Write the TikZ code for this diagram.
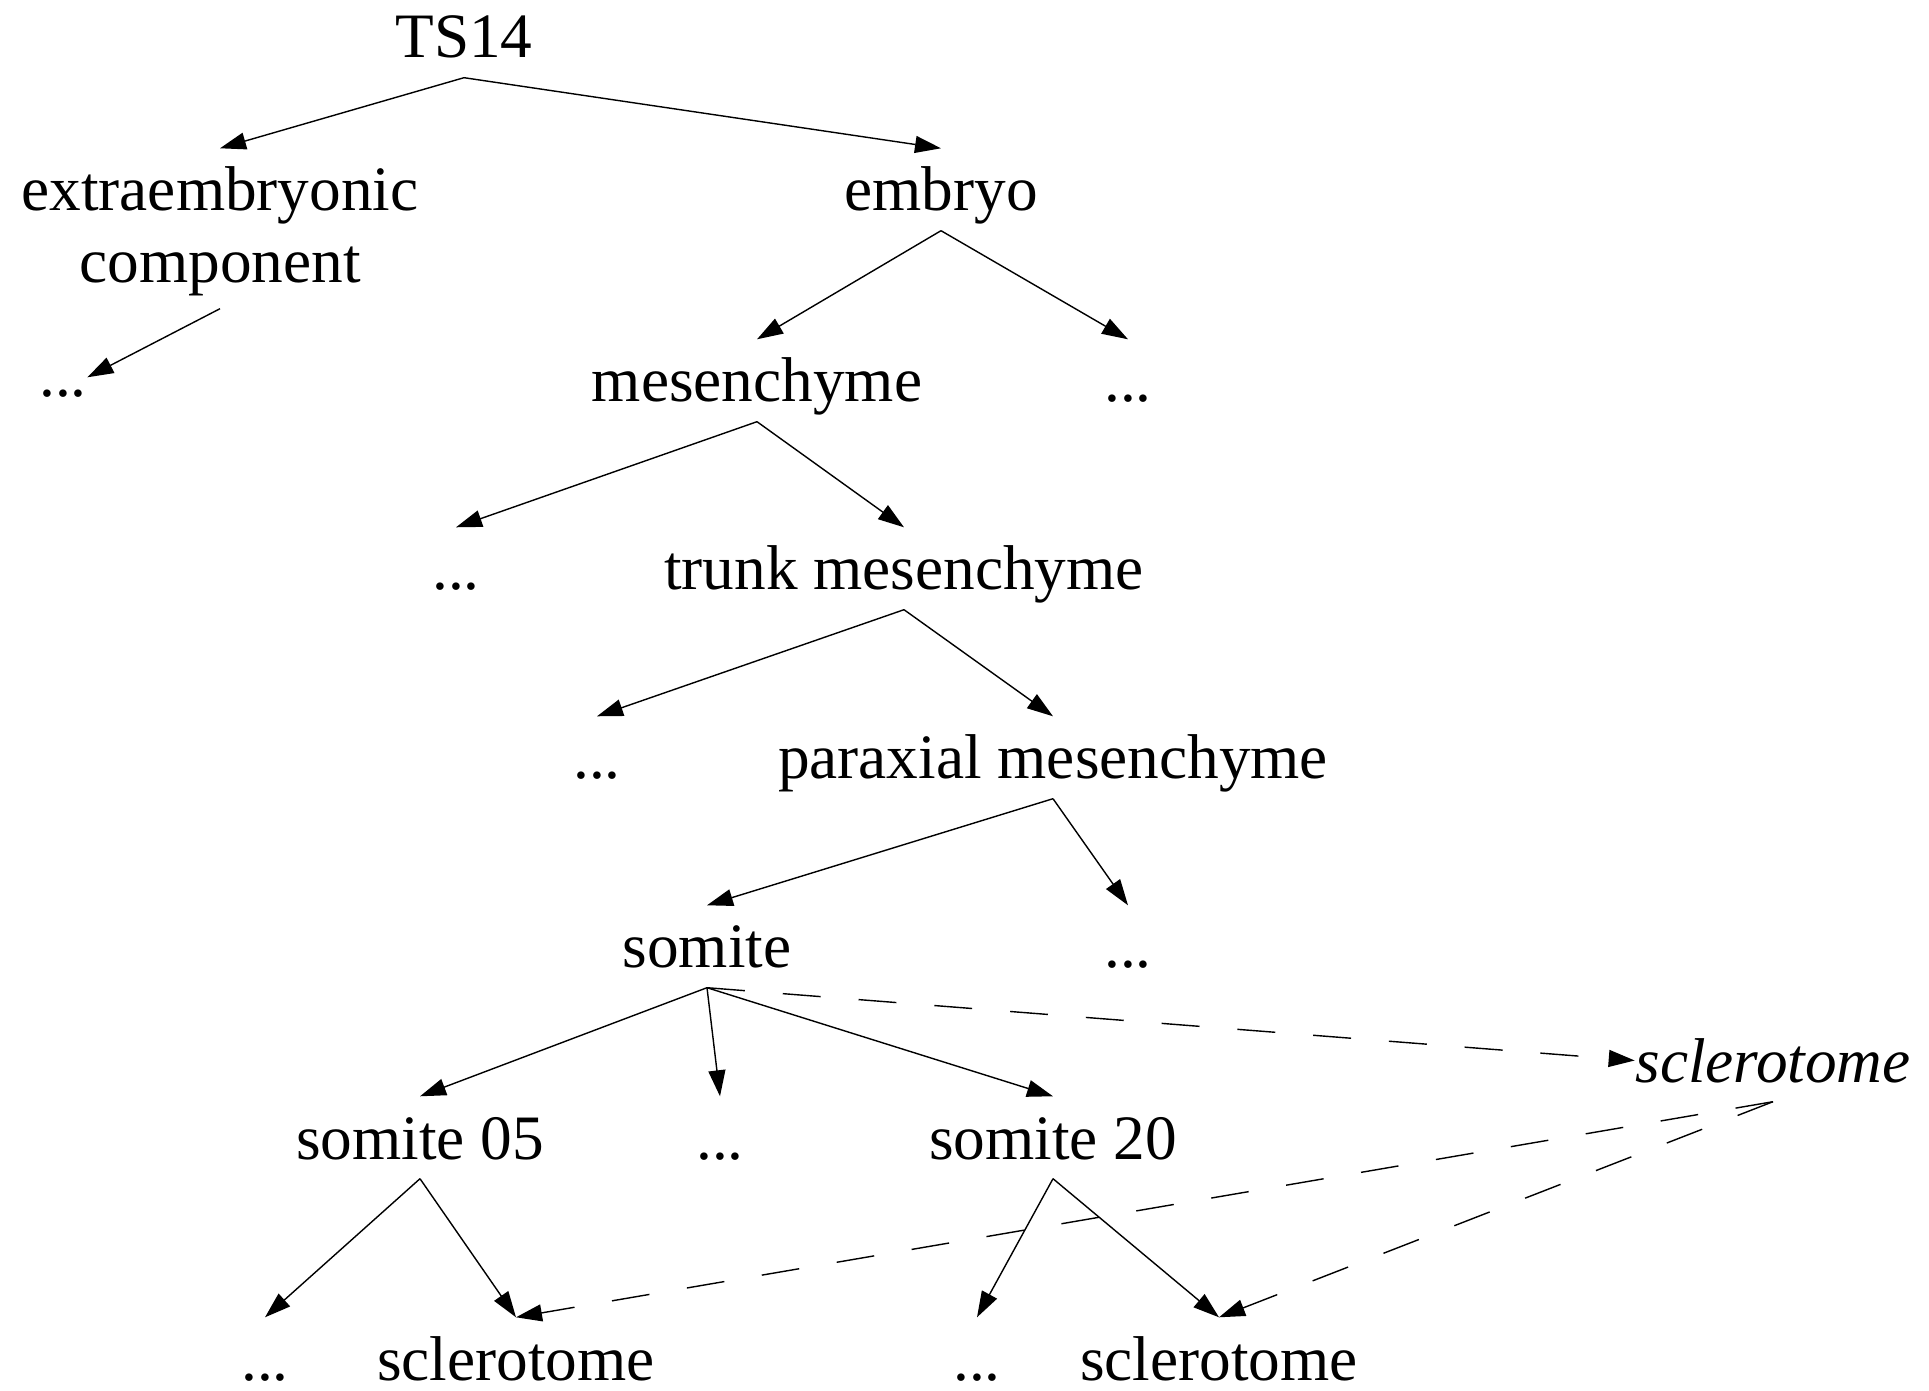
\documentclass[tikz,border=0pt]{standalone}
\usepackage{fontspec}
\setmainfont{Liberation Serif}
\usetikzlibrary{arrows.meta}
\begin{document}
\begin{tikzpicture}[x=0.1mm, y=-0.1mm, >={Triangle[length=2.6mm,width=1.7mm]}]
\tikzstyle{every node}=[inner sep=0pt, anchor=base, text height=6.2mm, text depth=1.9mm, font=\fontsize{18}{20.5}\selectfont]
\tikzstyle{isa}=[->, line width=0.4pt]
\tikzstyle{same}=[->, line width=0.4pt, dash pattern=on 3.8mm off 3.8mm]
\useasboundingbox (0,0) rectangle (1929,1391);
\node(t0) at (464,58) {TS14};
\node[align=center, text height=13.4mm, text depth=2.5mm](l10) at (220,283) {extraembryonic\\component};
\node(l11) at (941,211) {embryo};
\node[text height=1.9mm](l20) at (63,397) {...};
\node(l21) at (757,402) {mesenchyme};
\node(l22) at (1128,402) {...};
\node(l30) at (456,590) {...};
\node(l31) at (904,590) {trunk mesenchyme};
\node(l40) at (597,779) {...};
\node(l41) at (1053,779) {paraxial mesenchyme};
\node(l50) at (707,968) {somite};
\node(l51) at (1128,968) {...};
\node[font=\fontsize{18}{20.5}\selectfont\itshape](s0) at (1773,1082) {sclerotome};
\node(l60) at (420,1159) {somite 05};
\node(l61) at (720,1159) {...};
\node(l62) at (1053,1159) {somite 20};
\node(l70) at (265,1380) {...};
\node(l71) at (516,1380) {sclerotome};
\node(l72) at (977,1380) {...};
\node(l73) at (1219,1380) {sclerotome};
\draw[isa] (t0.south) -- (l10.north);
\draw[isa] (t0.south) -- (l11.north);
\draw[isa] (l10.south) -- (l20.north east);
\draw[isa] (l11.south) -- (l21.north);
\draw[isa] (l11.south) -- (l22.north);
\draw[isa] (l21.south) -- (l30.north);
\draw[isa] (l21.south) -- (l31.north);
\draw[isa] (l31.south) -- (l40.north);
\draw[isa] (l31.south) -- (l41.north);
\draw[isa] (l41.south) -- (l50.north);
\draw[isa] (l41.south) -- (l51.north);
\draw[isa] (l50.south) -- (l60.north);
\draw[isa] (l50.south) -- (l61.north);
\draw[isa] (l50.south) -- (l62.north);
\draw[isa] (l60.south) -- (l70.north);
\draw[isa] (l60.south) -- (l71.north);
\draw[isa] (l62.south) -- (l72.north);
\draw[isa] (l62.south) -- (l73.north);
% dashed links to the generic term
\draw[same] (l50.south) -- (s0.west);
\draw[same] (s0.south) -- (l71.north);
\draw[same] (s0.south) -- (l73.north);
\end{tikzpicture}
\end{document}
